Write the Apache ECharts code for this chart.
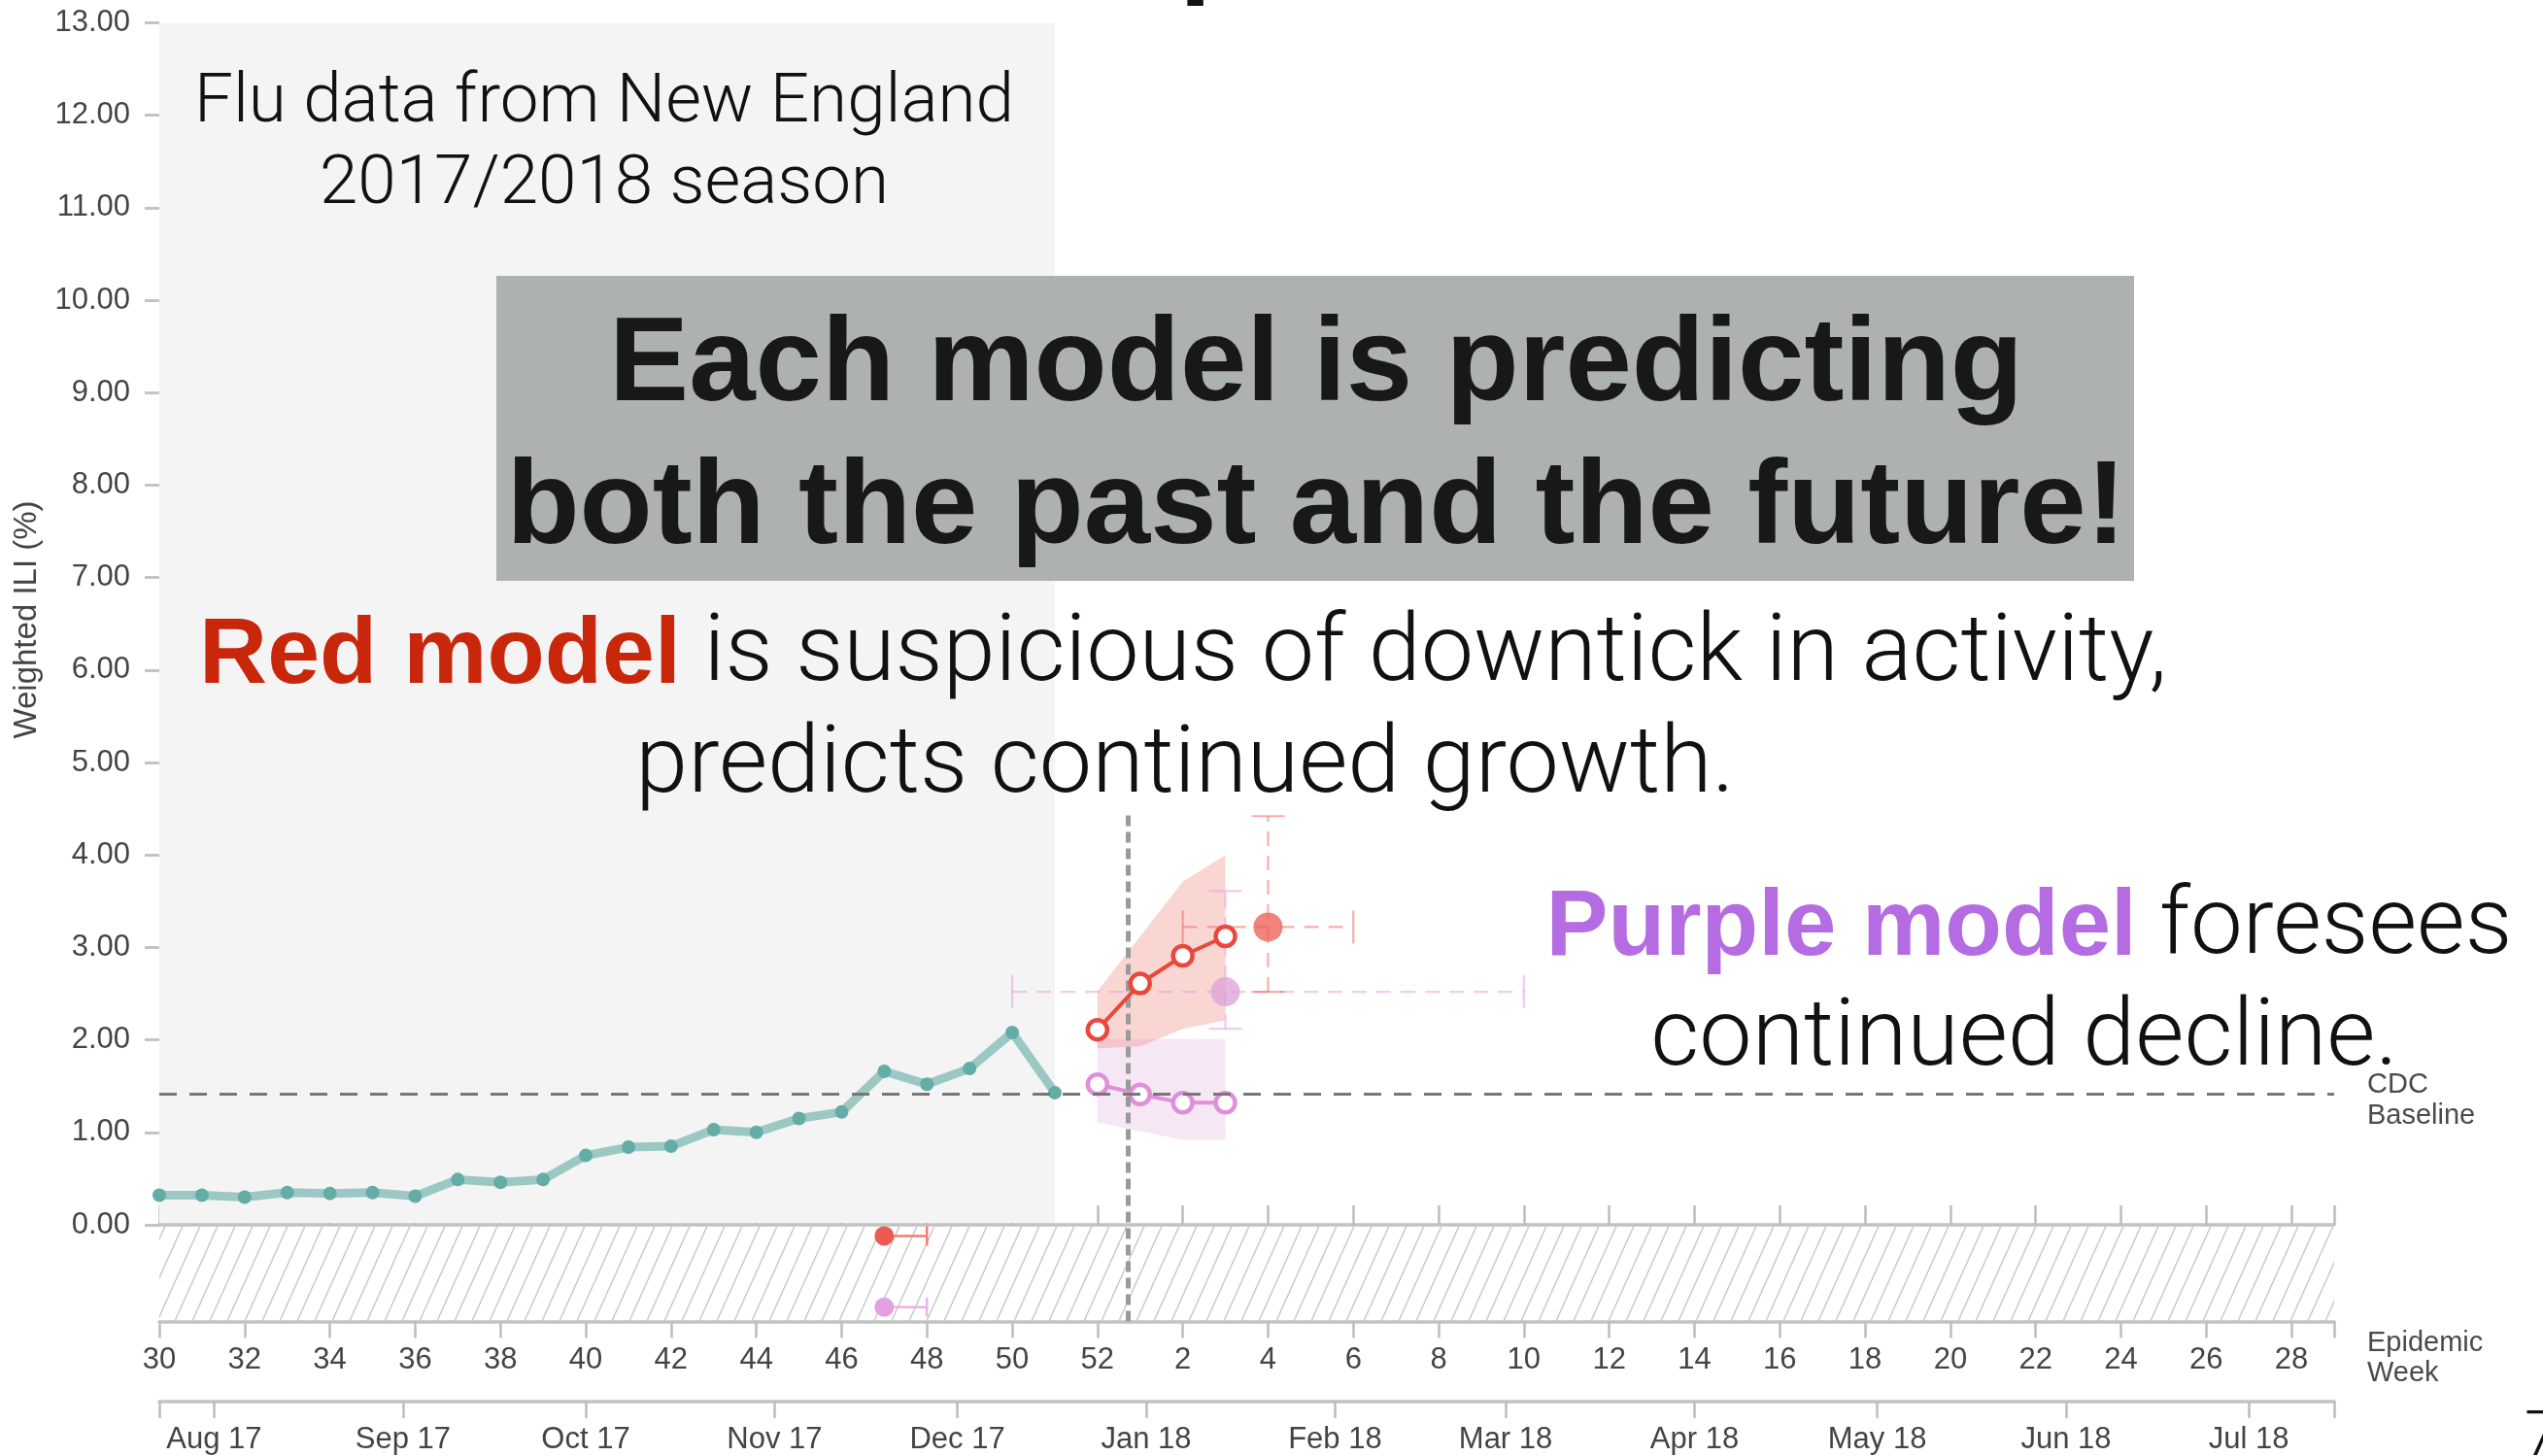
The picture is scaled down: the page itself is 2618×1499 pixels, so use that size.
<!DOCTYPE html>
<html>
<head>
<meta charset="utf-8">
<script src="https://cdn.jsdelivr.net/npm/echarts@6/dist/echarts.min.js"></script>
<style>
  html, body { margin: 0; padding: 0; background: #ffffff; }
  #chart { width: 2618px; height: 1499px; }
</style>
</head>
<body>
<div id="chart"></div>
<script>
// Epidemic weeks of the 2017/2018 season, in plotting order
const seasonWeeks = [30, 31, 32, 33, 34, 35, 36, 37, 38, 39, 40, 41, 42, 43, 44, 45, 46, 47, 48, 49, 50, 51, 52,
  1, 2, 3, 4, 5, 6, 7, 8, 9, 10, 11, 12, 13, 14, 15, 16, 17, 18, 19, 20, 21, 22, 23, 24, 25, 26, 27, 28, 29];

// Observed weighted ILI (%), weeks 30..51
const observedWeeks = [30, 31, 32, 33, 34, 35, 36, 37, 38, 39, 40, 41, 42, 43, 44, 45, 46, 47, 48, 49, 50, 51];
const observedILI = [0.32, 0.32, 0.30, 0.35, 0.34, 0.35, 0.31, 0.49, 0.46, 0.49, 0.75, 0.84, 0.85, 1.03, 1.00,
  1.15, 1.22, 1.66, 1.52, 1.69, 2.08, 1.43];

// Short-term forecasts (weeks 52, 1, 2, 3)
const forecastWeeks = [52, 1, 2, 3];
const redPoint = [2.11, 2.61, 2.91, 3.12];
const redUpper = [2.53, 3.12, 3.71, 4.00];
const redLower = [1.91, 1.93, 2.12, 2.21];
const purplePoint = [1.52, 1.41, 1.32, 1.32];
const purpleUpper = [2.01, 2.01, 2.01, 2.01];
const purpleLower = [1.11, 1.01, 0.92, 0.92];

// Peak forecasts: [peak week, peak value, week low, week high, value low, value high]
const redPeak = [4, 3.22, 2, 6, 2.52, 4.42];
const purplePeak = [3, 2.52, 50, 10, 2.12, 3.61];

// Onset forecasts: [onset week, week high]
const redOnset = [47, 48];
const purpleOnset = [47, 48];

const cdcBaseline = 1.42;
const forecastDate = '2017-12-29';
const seasonStart = '2017-07-23';

// Axis ticks and labels
const yTicks = [0, 1, 2, 3, 4, 5, 6, 7, 8, 9, 10, 11, 12, 13];
const weekLabelWeeks = [30, 32, 34, 36, 38, 40, 42, 44, 46, 48, 50, 52, 2, 4, 6, 8, 10, 12, 14, 16, 18, 20, 22, 24, 26, 28];
const monthStarts = ['2017-08-01', '2017-09-01', '2017-10-01', '2017-11-01', '2017-12-01', '2018-01-01',
  '2018-02-01', '2018-03-01', '2018-04-01', '2018-05-01', '2018-06-01', '2018-07-01'];
const monthLabels = ['Aug 17', 'Sep 17', 'Oct 17', 'Nov 17', 'Dec 17', 'Jan 18',
  'Feb 18', 'Mar 18', 'Apr 18', 'May 18', 'Jun 18', 'Jul 18'];

// ---------------------------------------------------------------------------
const AX_FONT = '"Liberation Sans", Arial, Helvetica, sans-serif';
const LIGHT_FONT = 'Roboto, "Liberation Sans", sans-serif';
const BOLD_FONT = '"Liberation Sans", Arial, Helvetica, sans-serif';

const wIdx = w => seasonWeeks.indexOf(w);
const lastIdx = seasonWeeks.length - 1;
const dayMs = 864e5;
const dateIdx = s => (Date.parse(s + 'T00:00:00Z') - Date.parse(seasonStart + 'T00:00:00Z')) / (7 * dayMs);
const yMin = -1.045;

const weekTickIdx = weekLabelWeeks.map(wIdx).concat([lastIdx]);
const weekLabelIdx = weekLabelWeeks.map(wIdx);
const monthIdx = monthStarts.map(dateIdx);
const monthTickIdx = [0].concat(monthIdx, [lastIdx]);
const nowIdx = dateIdx(forecastDate);

// diagonal hatching tile for the onset strip
const HW = 18, HH = 40;
const hatch = document.createElement('canvas');
hatch.width = HW; hatch.height = HH;
(function () {
  const c = hatch.getContext('2d');
  c.strokeStyle = '#c9c9c9';
  c.lineWidth = 1.5;
  for (let k = -1; k <= 1; k++) {
    c.beginPath();
    c.moveTo(k * HW - HW, 2 * HH);
    c.lineTo(k * HW + 2 * HW, -HH);
    c.stroke();
  }
})();

function band(up, lo, fill, z) {
  return {
    type: 'custom', coordinateSystem: 'cartesian2d', silent: true, z: z,
    data: [[forecastWeeks.length, 0]],
    renderItem: function (params, api) {
      const pts = [];
      forecastWeeks.forEach((w, i) => pts.push(api.coord([wIdx(w), up[i]])));
      for (let i = forecastWeeks.length - 1; i >= 0; i--) pts.push(api.coord([wIdx(forecastWeeks[i]), lo[i]]));
      return { type: 'polygon', shape: { points: pts }, style: { fill: fill } };
    }
  };
}

function forecastLine(vals, color, z) {
  return {
    type: 'line', z: z, silent: true,
    data: forecastWeeks.map((w, i) => [wIdx(w), vals[i]]),
    symbol: 'circle', symbolSize: 20,
    itemStyle: { color: '#ffffff', borderColor: color, borderWidth: 4.5 },
    lineStyle: { color: color, width: 4 }
  };
}

function peak(p, stroke, fill, z) {
  return {
    type: 'custom', coordinateSystem: 'cartesian2d', silent: true, z: z,
    data: [[wIdx(p[0]), p[1], wIdx(p[2]), wIdx(p[3]), p[4], p[5]]],
    renderItem: function (params, api) {
      const c = api.coord([api.value(0), api.value(1)]);
      const l = api.coord([api.value(2), api.value(1)]);
      const r = api.coord([api.value(3), api.value(1)]);
      const b = api.coord([api.value(0), api.value(4)]);
      const t = api.coord([api.value(0), api.value(5)]);
      const dash = { stroke: stroke, lineWidth: 2.2, lineDash: [15, 10] };
      const solid = { stroke: stroke, lineWidth: 2.2 };
      const cap = 17;
      return {
        type: 'group', children: [
          { type: 'line', shape: { x1: l[0], y1: l[1], x2: r[0], y2: r[1] }, style: dash },
          { type: 'line', shape: { x1: b[0], y1: b[1], x2: t[0], y2: t[1] }, style: dash },
          { type: 'line', shape: { x1: l[0], y1: l[1] - cap, x2: l[0], y2: l[1] + cap }, style: solid },
          { type: 'line', shape: { x1: r[0], y1: r[1] - cap, x2: r[0], y2: r[1] + cap }, style: solid },
          { type: 'line', shape: { x1: b[0] - cap, y1: b[1], x2: b[0] + cap, y2: b[1] }, style: solid },
          { type: 'line', shape: { x1: t[0] - cap, y1: t[1], x2: t[0] + cap, y2: t[1] }, style: solid },
          { type: 'circle', shape: { cx: c[0], cy: c[1], r: 15 }, style: { fill: fill } }
        ]
      };
    }
  };
}

function onset(o, row, dot, bar) {
  return {
    type: 'custom', coordinateSystem: 'cartesian2d', silent: true, z: 4,
    data: [[wIdx(o[0]), row, wIdx(o[1])]],
    renderItem: function (params, api) {
      const c = api.coord([api.value(0), api.value(1)]);
      const r = api.coord([api.value(2), api.value(1)]);
      return {
        type: 'group', children: [
          { type: 'line', shape: { x1: c[0], y1: c[1], x2: r[0], y2: r[1] }, style: { stroke: bar, lineWidth: 2.5 } },
          { type: 'line', shape: { x1: r[0], y1: r[1] - 10, x2: r[0], y2: r[1] + 10 }, style: { stroke: bar, lineWidth: 2.5 } },
          { type: 'circle', shape: { cx: c[0], cy: c[1], r: 10 }, style: { fill: dot } }
        ]
      };
    }
  };
}

const GRID_LEFT = 164, GRID_WIDTH = 2239;
const axisGray = '#c2c2c2';

const option = {
  animation: false,
  backgroundColor: '#ffffff',
  grid: [
    { left: GRID_LEFT, width: GRID_WIDTH, top: 23.4, height: 1337.1 },
    { left: GRID_LEFT, width: GRID_WIDTH, top: 1442, height: 1 }
  ],
  xAxis: [
    {
      type: 'value', gridIndex: 0, min: 0, max: lastIdx, position: 'bottom',
      axisLine: { onZero: false, lineStyle: { color: axisGray, width: 3.5 } },
      axisTick: { customValues: weekTickIdx, length: 17, lineStyle: { color: '#bdbdbd', width: 2.5 } },
      axisLabel: {
        customValues: weekLabelIdx, margin: 24, fontSize: 31, color: '#444', fontFamily: AX_FONT,
        formatter: v => String(seasonWeeks[Math.round(v)])
      },
      splitLine: { show: false }
    },
    {
      type: 'value', gridIndex: 0, min: 0, max: lastIdx, position: 'top',
      axisLine: { onZero: true, lineStyle: { color: axisGray, width: 3.5 } },
      axisTick: { customValues: weekTickIdx, length: 20, lineStyle: { color: '#bdbdbd', width: 2.5 } },
      axisLabel: { show: false },
      splitLine: { show: false }
    },
    {
      type: 'value', gridIndex: 1, min: 0, max: lastIdx, position: 'bottom',
      axisLine: { onZero: false, lineStyle: { color: axisGray, width: 3.5 } },
      axisTick: { customValues: monthTickIdx, length: 17, lineStyle: { color: '#bdbdbd', width: 2.5 } },
      axisLabel: {
        customValues: monthIdx, margin: 24, fontSize: 31, color: '#444', fontFamily: AX_FONT,
        formatter: v => {
          const i = monthIdx.findIndex(m => Math.abs(m - v) < 1e-6);
          return i >= 0 ? monthLabels[i] : '';
        }
      },
      splitLine: { show: false }
    }
  ],
  yAxis: [
    {
      type: 'value', gridIndex: 0, min: yMin, max: 13, offset: 2,
      axisLine: { show: false },
      axisTick: { show: true, customValues: yTicks, length: 15, lineStyle: { color: '#c4c4c4', width: 3 } },
      axisLabel: {
        customValues: yTicks, margin: 28, fontSize: 31, color: '#444', fontFamily: AX_FONT,
        formatter: v => v.toFixed(2)
      },
      splitLine: { show: false }
    },
    { type: 'value', gridIndex: 1, min: 0, max: 1, show: false }
  ],
  series: [
    {
      type: 'line', z: 3, silent: true,
      data: observedWeeks.map((w, i) => [wIdx(w), observedILI[i]]),
      symbol: 'circle', symbolSize: 14,
      itemStyle: { color: '#64aca6' },
      lineStyle: { color: '#9cc8c4', width: 9 },
      markArea: {
        silent: true,
        data: [
          [{ xAxis: 0, yAxis: 0.02, itemStyle: { color: '#f4f4f4' } }, { xAxis: wIdx(51), yAxis: 13 }],
          [{ xAxis: 0, yAxis: yMin, itemStyle: { color: { image: hatch, repeat: 'repeat' } } }, { xAxis: lastIdx, yAxis: 0 }]
        ]
      },
      markLine: {
        silent: true, symbol: 'none', label: { show: false },
        data: [
          { yAxis: cdcBaseline, lineStyle: { color: '#777777', width: 2.8, type: [18, 13] } },
          [
            { coord: [nowIdx, yMin], lineStyle: { color: '#9a9a9a', width: 5, type: [11, 6] } },
            { coord: [nowIdx, 4.45] }
          ]
        ]
      }
    },
    band(purpleUpper, purpleLower, 'rgba(222,170,220,0.28)', 2),
    band(redUpper, redLower, 'rgba(240,120,108,0.30)', 2),
    forecastLine(purplePoint, '#e08fd9', 4),
    forecastLine(redPoint, '#e9483c', 5),
    peak(purplePeak, 'rgba(230,160,220,0.55)', 'rgba(220,160,214,0.75)', 3),
    peak(redPeak, 'rgba(238,110,100,0.55)', 'rgba(236,100,90,0.8)', 3),
    onset(redOnset, -0.12, '#ec5b50', '#f07c72'),
    onset(purpleOnset, -0.89, '#e5a0df', '#ebb3e6')
  ],
  graphic: [
    // axis captions
    { type: 'text', z: 20, x: 28, y: 638, rotation: Math.PI / 2,
      style: { x: 0, y: 0, text: 'Weighted ILI (%)', fontSize: 33, fontFamily: AX_FONT, fill: '#444', textAlign: 'center', textVerticalAlign: 'middle' } },
    { type: 'text', z: 20, style: { x: 2437, y: 1117, text: 'CDC', fontSize: 29, fontFamily: AX_FONT, fill: '#4a4a4a', textAlign: 'left', textVerticalAlign: 'middle' } },
    { type: 'text', z: 20, style: { x: 2437, y: 1149, text: 'Baseline', fontSize: 29, fontFamily: AX_FONT, fill: '#4a4a4a', textAlign: 'left', textVerticalAlign: 'middle' } },
    { type: 'text', z: 20, style: { x: 2437, y: 1383, text: 'Epidemic', fontSize: 29, fontFamily: AX_FONT, fill: '#4a4a4a', textAlign: 'left', textVerticalAlign: 'middle' } },
    { type: 'text', z: 20, style: { x: 2437, y: 1414, text: 'Week', fontSize: 29, fontFamily: AX_FONT, fill: '#4a4a4a', textAlign: 'left', textVerticalAlign: 'middle' } },

    // region caption
    { type: 'text', z: 20, style: { x: 622, y: 107, text: 'Flu data from New England', fontSize: 71, fontWeight: 300, fontFamily: LIGHT_FONT, fill: '#111', textAlign: 'center', textVerticalAlign: 'middle' } },
    { type: 'text', z: 20, style: { x: 622, y: 191, text: '2017/2018 season', fontSize: 71, fontWeight: 300, fontFamily: LIGHT_FONT, fill: '#111', textAlign: 'center', textVerticalAlign: 'middle' } },

    // headline box
    { type: 'rect', z: 20, shape: { x: 511, y: 284, width: 1686, height: 314 }, style: { fill: '#adb1b0' } },
    { type: 'text', z: 21, style: { x: 1355, y: 378, text: 'Each model is predicting', fontSize: 123, fontWeight: 'bold', fontFamily: BOLD_FONT, fill: '#181818', textAlign: 'center', textVerticalAlign: 'middle' } },
    { type: 'text', z: 21, style: { x: 1355, y: 525, text: 'both the past and the future!', fontSize: 123, fontWeight: 'bold', fontFamily: BOLD_FONT, fill: '#181818', textAlign: 'center', textVerticalAlign: 'middle' } },

    // red model note
    { type: 'text', z: 21, style: {
      x: 1218, y: 676, textAlign: 'center', textVerticalAlign: 'middle',
      text: '{b|Red model}{n| is suspicious of downtick in activity,}',
      rich: {
        b: { fontSize: 97, fontWeight: 'bold', fontFamily: BOLD_FONT, fill: '#c9270c' },
        n: { fontSize: 97, fontWeight: 300, fontFamily: LIGHT_FONT, fill: '#111' }
      } } },
    { type: 'text', z: 21, style: { x: 1220, y: 791, text: 'predicts continued growth.', fontSize: 97, fontWeight: 300, fontFamily: LIGHT_FONT, fill: '#111', textAlign: 'center', textVerticalAlign: 'middle' } },

    // purple model note
    { type: 'text', z: 21, style: {
      x: 2089, y: 957, textAlign: 'center', textVerticalAlign: 'middle',
      text: '{b|Purple model}{n| foresees}',
      rich: {
        b: { fontSize: 96, fontWeight: 'bold', fontFamily: BOLD_FONT, fill: '#b56ce3' },
        n: { fontSize: 96, fontWeight: 300, fontFamily: LIGHT_FONT, fill: '#111' }
      } } },
    { type: 'text', z: 21, style: { x: 2084, y: 1072, text: 'continued decline.', fontSize: 97, fontWeight: 300, fontFamily: LIGHT_FONT, fill: '#111', textAlign: 'center', textVerticalAlign: 'middle' } },

    // slide furniture at the edges
    { type: 'text', z: 21, style: { x: 1214, y: -52, text: 'p', fontSize: 120, fontWeight: 'bold', fontFamily: BOLD_FONT, fill: '#111', textAlign: 'left', textVerticalAlign: 'middle' } },
    { type: 'text', z: 21, style: { x: 2599, y: 1482, text: '7', fontSize: 64, fontWeight: 300, fontFamily: LIGHT_FONT, fill: '#111', textAlign: 'left', textVerticalAlign: 'middle' } }
  ]
};

const chart = echarts.init(document.getElementById('chart'), null, { renderer: 'canvas' });
chart.setOption(option);
</script>
</body>
</html>
